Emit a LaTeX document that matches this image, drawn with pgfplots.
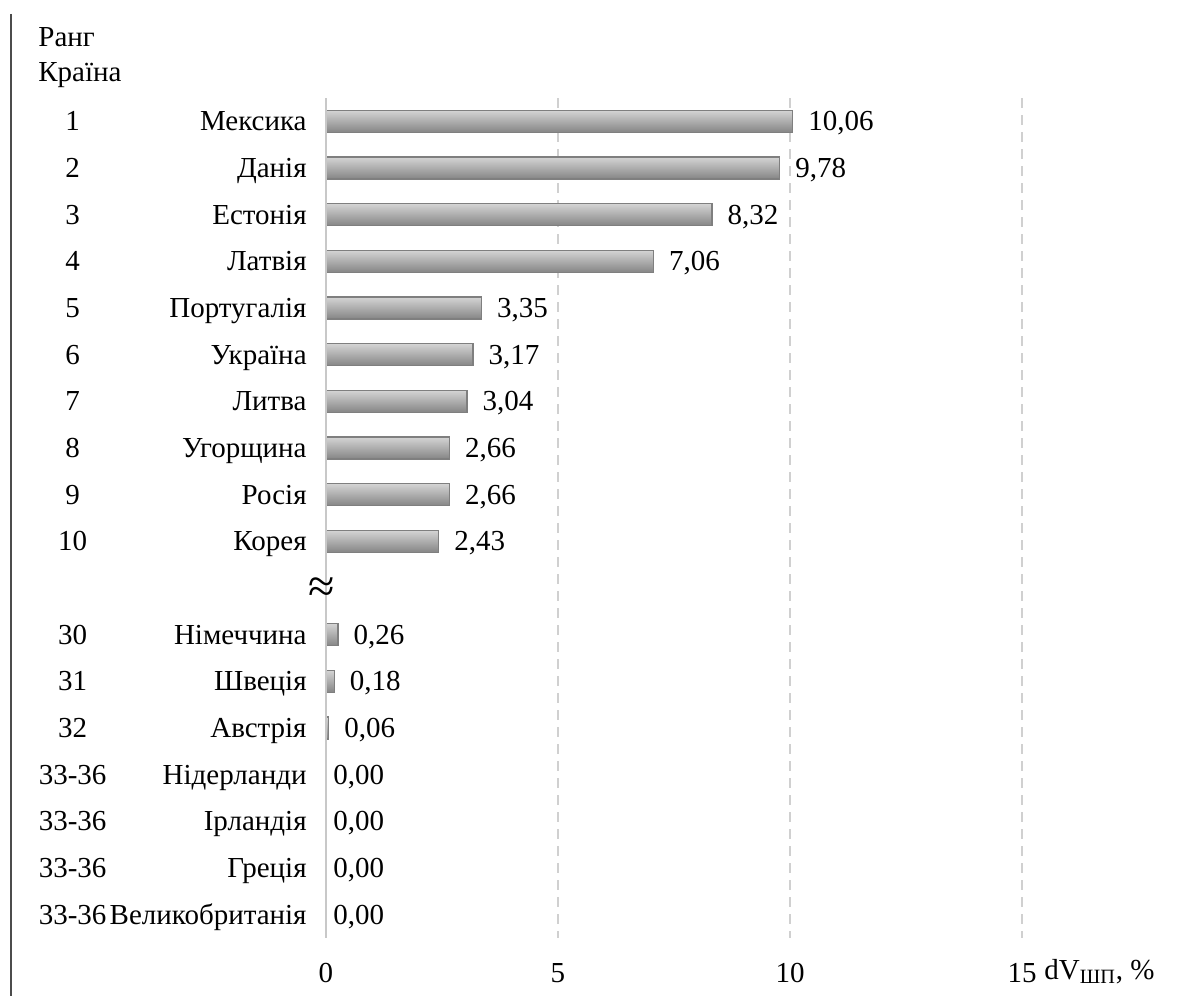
\documentclass[border=0pt]{standalone}
\usepackage{pgfplots}
\pgfplotsset{compat=1.18}
\usepackage{fontspec}
\setmainfont{Liberation Serif}

\definecolor{barTop}{HTML}{D4D4D4}
\definecolor{barBot}{HTML}{858585}
\definecolor{barEdge}{HTML}{7F7F7F}
\definecolor{gridGray}{HTML}{D0D0D0}
\definecolor{zeroLine}{HTML}{C8C8C8}

% rank box + right-aligned country name
\newcommand{\rowlab}[2]{\makebox[40pt][c]{#1}\makebox[97pt][r]{#2}}

\tikzset{
  valfmt/.style={/pgf/number format/.cd, fixed, fixed zerofill, precision=2, use comma, assume math mode=true},
}
\pgfplotsset{
  % one shaded bar with its value printed after it
  gbar/.style={xbar, bar shift=0pt, draw=barEdge, line width=0.6pt,
    top color=barTop, bottom color=barBot,
    nodes near coords,
    nodes near coords style={anchor=base west, inner sep=0pt, xshift=7.5pt, yshift=-4.8pt,
      font=\fontsize{14.5pt}{17pt}\selectfont, valfmt}},
  % value label only, no bar
  zbar/.style={xbar, bar shift=0pt, draw=none, fill=none,
    nodes near coords,
    nodes near coords style={anchor=base west, inner sep=0pt, xshift=3.5pt, yshift=-4.8pt,
      font=\fontsize{14.5pt}{17pt}\selectfont, valfmt}},
}

\begin{document}
\fontsize{14.5pt}{17pt}\selectfont
\begin{tikzpicture}
\begin{axis}[
  at={(0,0)}, anchor=south west,
  scale only axis,
  width=348pt, height=420pt,
  xmin=0, xmax=15,
  ymin=-0.5, ymax=17.5,
  y dir=reverse,
  xbar, bar width=11pt, bar shift=0pt,
  axis line style={draw=none},
  major tick length=0pt,
  xtick={0,5,10,15},
  xmajorgrids,
  grid style={gridGray, line width=0.8pt, dash pattern=on 5pt off 3.5pt},
  ytick={0,1,2,3,4,5,6,7,8,9,11,12,13,14,15,16,17},
  yticklabels={
    \rowlab{1}{Мексика},
    \rowlab{2}{Данія},
    \rowlab{3}{Естонія},
    \rowlab{4}{Латвія},
    \rowlab{5}{Португалія},
    \rowlab{6}{Україна},
    \rowlab{7}{Литва},
    \rowlab{8}{Угорщина},
    \rowlab{9}{Росія},
    \rowlab{10}{Корея},
    \rowlab{30}{Німеччина},
    \rowlab{31}{Швеція},
    \rowlab{32}{Австрія},
    \rowlab{33-36}{Нідерланди},
    \rowlab{33-36}{Ірландія},
    \rowlab{33-36}{Греція},
    \rowlab{33-36}{Великобританія}},
  yticklabel style={anchor=base east, inner sep=0pt, xshift=-9.5pt, yshift=-4.8pt, font=\fontsize{14.5pt}{17pt}\selectfont},
  xticklabel style={anchor=north, inner sep=0pt, yshift=-12.5pt, font=\fontsize{14.5pt}{17pt}\selectfont},
  /pgf/number format/.cd, assume math mode=true, use comma, fixed,
  /pgfplots/.cd,
  clip=false,
]
\addplot[gbar] coordinates {(10.06,0)};
\addplot[gbar] coordinates {(9.78,1)};
\addplot[gbar] coordinates {(8.32,2)};
\addplot[gbar] coordinates {(7.06,3)};
\addplot[gbar] coordinates {(3.35,4)};
\addplot[gbar] coordinates {(3.17,5)};
\addplot[gbar] coordinates {(3.04,6)};
\addplot[gbar] coordinates {(2.66,7)};
\addplot[gbar] coordinates {(2.66,8)};
\addplot[gbar] coordinates {(2.43,9)};
\addplot[gbar] coordinates {(0.26,11)};
\addplot[gbar] coordinates {(0.18,12)};
\addplot[gbar] coordinates {(0.06,13)};
\addplot[zbar] coordinates {(0,14) (0,15) (0,16) (0,17)};
% solid zero line
\draw[zeroLine, line width=0.8pt] (axis cs:0,-0.5) -- (axis cs:0,17.5);
\node[font=\fontsize{24pt}{26pt}\selectfont, inner sep=0pt] at (axis cs:0,10) [xshift=-2pt, yshift=-1pt] {≈};
\node[anchor=base west, inner sep=0pt, font=\fontsize{14.5pt}{17pt}\selectfont] at (rel axis cs:1,0) [xshift=11pt, yshift=-20.5pt] {dV\textsubscript{ШП}, \%};
\end{axis}
% headers and left rule
\node[anchor=base west, inner sep=0pt] at (-144pt,445.5pt) {Ранг};
\node[anchor=base west, inner sep=0pt] at (-144pt,428pt) {Країна};
\draw[black!70, line width=0.8pt] (-157.5pt,462pt) -- (-157.5pt,-29pt);
\pgfresetboundingbox
\path[use as bounding box] (-163pt,-29pt) rectangle (425.5pt,469pt);
\end{tikzpicture}
\end{document}
